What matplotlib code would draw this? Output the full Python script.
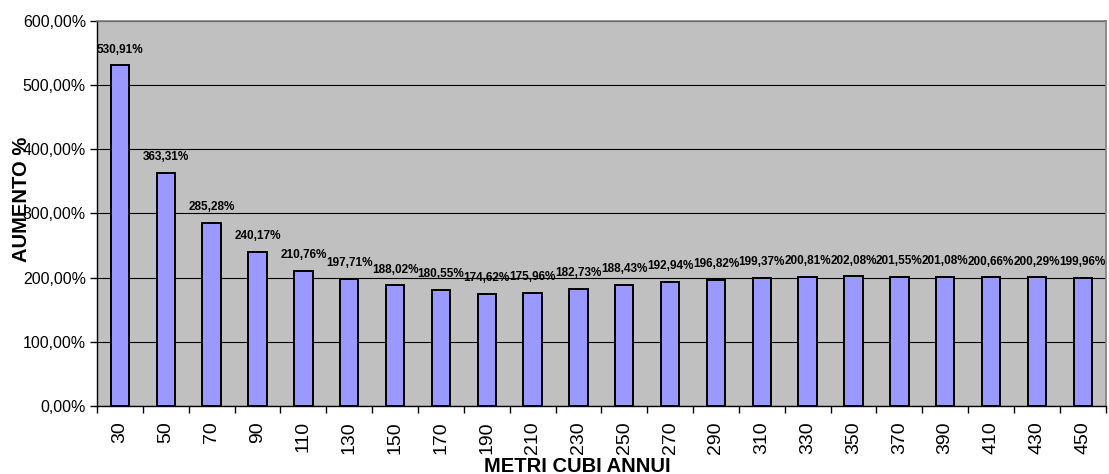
import matplotlib
matplotlib.use("Agg")
import matplotlib.pyplot as plt
from matplotlib.ticker import FuncFormatter, MultipleLocator

plt.rcParams['font.family'] = ['Liberation Sans', 'DejaVu Sans']

categories = ["30", "50", "70", "90", "110", "130", "150", "170", "190", "210", "230",
              "250", "270", "290", "310", "330", "350", "370", "390", "410", "430", "450"]
values = [530.91, 363.31, 285.28, 240.17, 210.76, 197.71, 188.02, 180.55, 174.62, 175.96, 182.73,
          188.43, 192.94, 196.82, 199.37, 200.81, 202.08, 201.55, 201.08, 200.66, 200.29, 199.96]

fig = plt.figure(figsize=(11.09, 4.74), dpi=100)
ax = fig.add_axes([0.0875, 0.1435, 0.9095, 0.8122])
ax.set_facecolor('#C0C0C0')

x = list(range(len(categories)))
ax.bar(x, values, width=0.4, color='#9999FF', edgecolor='black', linewidth=1.4, zorder=3)

ax.set_xlim(-0.5, len(categories) - 0.5)
ax.set_ylim(0, 600)
ax.yaxis.set_major_locator(MultipleLocator(100))
ax.yaxis.set_major_formatter(FuncFormatter(lambda v, p: f"{v:.2f}%".replace('.', ',')))
ax.grid(axis='y', color='black', linewidth=0.8, zorder=1)

ax.set_xticks([i - 0.5 for i in range(len(categories) + 1)])
ax.set_xticklabels([])
ax.set_xticks(x, minor=True)
ax.set_xticklabels(categories, minor=True, rotation=90, fontsize=14)
ax.tick_params(axis='x', which='minor', length=0, pad=11)
ax.tick_params(axis='x', which='major', length=5, width=1, direction='out')
ax.tick_params(axis='y', length=5, width=1, direction='out', labelsize=11.5, pad=3)

for s in ['top', 'right']:
    ax.spines[s].set_color('#808080')
    ax.spines[s].set_linewidth(1.2)
for s in ['left', 'bottom']:
    ax.spines[s].set_color('black')
    ax.spines[s].set_linewidth(1)

for xi, v in zip(x, values):
    ax.annotate(f"{v:.2f}%".replace('.', ','), (xi, v), xytext=(0, 7),
                textcoords='offset points', ha='center', va='bottom',
                fontsize=8.5, fontweight='bold', zorder=4)

fig.text(0.521, 0.005, "METRI CUBI ANNUI", ha='center', va='baseline', fontsize=14.5, fontweight='bold')
fig.text(0.019, 0.58, "AUMENTO %", ha='center', va='center', rotation=90, fontsize=14.5, fontweight='bold')

fig.savefig("out.png", dpi=100)
